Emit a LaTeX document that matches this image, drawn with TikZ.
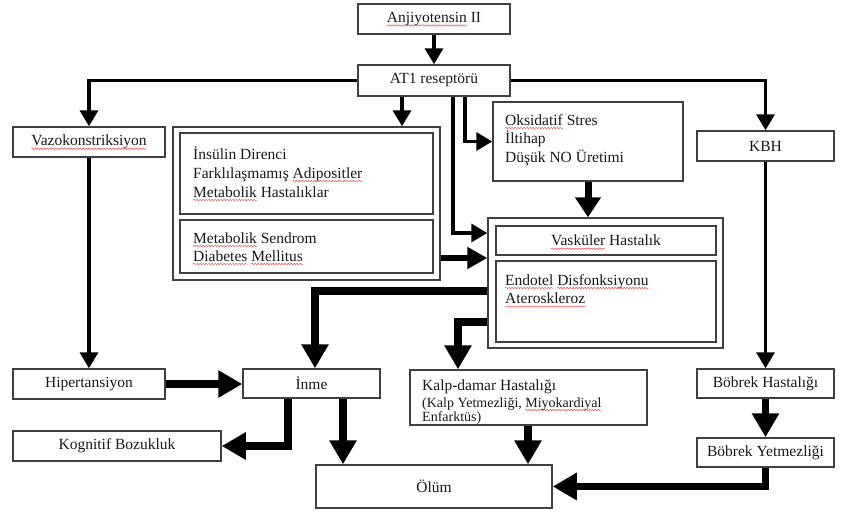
\documentclass[tikz,border=0pt]{standalone}
\usepackage{fontspec}
\setmainfont{Liberation Serif}
\usetikzlibrary{arrows.meta,calc,decorations.pathmorphing}
\newcommand\wv[1]{\tikz[baseline=(wv.base)]{\node[inner sep=0pt,outer sep=0pt,minimum width=0pt,minimum height=0pt,draw=none,fill=none] (wv) {#1};\draw[overlay,red!70,line width=0.5pt,decorate,decoration={snake,amplitude=0.7pt,segment length=3pt}] ([yshift=-3pt]wv.base west) -- ([yshift=-3pt]wv.base east);}}
\begin{document}
\begin{tikzpicture}[x=1pt,y=-1pt,
  box/.style={draw=black!75,line width=1.5pt,fill=white,inner sep=0pt,font=\fontsize{15.5}{18.5}\selectfont,text=black!90},
  txt/.style={inner sep=0pt,anchor=base west,font=\fontsize{15.5}{18.5}\selectfont,text=black!90},
  smalltxt/.style={inner sep=0pt,anchor=base west,font=\fontsize{14}{15}\selectfont,text=black!90},
  thinarr/.style={line width=3.5pt,-{Triangle[length=16pt,width=18pt]}},
  medarr/.style={line width=5.5pt,-{Triangle[length=20pt,width=21pt]}},
  thickarr/.style={line width=7.5pt,-{Triangle[length=24pt,width=26pt]}}]
\useasboundingbox (0,0) rectangle (851,515);
\fill[white] (0,0) rectangle (851,515);
% boxes
\node[box,minimum width=152pt,minimum height=30pt] (ang) at (434,19) {\wv{Anjiyotensin} II};
\node[box,minimum width=152pt,minimum height=31pt] (at1) at (434,80.5) {AT1 reseptörü};
\node[box,minimum width=152pt,minimum height=30pt] (vazo) at (89,142) {\wv{Vazokonstriksiyon}};
\node[box,minimum width=267pt,minimum height=153pt] (lo) at (306.5,203.5) {};
\node[box,minimum width=253pt,minimum height=81pt] (li1) at (306.5,173.5) {};
\node[box,minimum width=253pt,minimum height=53pt] (li2) at (306.5,246.5) {};
\node[box,minimum width=190pt,minimum height=79pt] (oks) at (588,141.5) {};
\node[box,minimum width=137pt,minimum height=30pt] (kbh) at (765.5,146) {KBH};
\node[box,minimum width=235pt,minimum height=130pt] (vo) at (605.5,283) {};
\node[box,minimum width=220pt,minimum height=29pt] (vi1) at (606,240.5) {\wv{Vasküler} Hastalık};
\node[box,minimum width=220pt,minimum height=81pt] (vi2) at (606,301.5) {};
\node[box,minimum width=152pt,minimum height=30pt] (hip) at (89,384) {Hipertansiyon};
\node[box,minimum width=137pt,minimum height=29pt] (inme) at (311.5,383.5) {İnme};
\node[box,minimum width=237pt,minimum height=55pt] (kalp) at (528.5,397.5) {};
\node[box,minimum width=137pt,minimum height=29pt] (bh) at (765.5,383.5) {Böbrek Hastalığı};
\node[box,minimum width=208pt,minimum height=30pt] (kog) at (117,446) {Kognitif Bozukluk};
\node[box,minimum width=137pt,minimum height=29pt] (by) at (765.5,452.5) {Böbrek Yetmezliği};
\node[box,minimum width=236pt,minimum height=43pt] (olum) at (434,486.5) {Ölüm};
% texts
\node[txt] (t1) at (193,159) {İnsülin Direnci};
\node[txt] (t2) at (193,178) {Farklılaşmamış \wv{Adipositler}};
\node[txt] (t3) at (193,197) {\wv{Metabolik} Hastalıklar};
\node[txt] (t4) at (193,243) {\wv{Metabolik} Sendrom};
\node[txt] (t5) at (193,261) {\wv{Diabetes} \wv{Mellitus}};
\node[txt] (t6) at (505,125) {\wv{Oksidatif} Stres};
\node[txt] (t7) at (505,143.5) {İltihap};
\node[txt] (t8) at (505,162) {Düşük NO Üretimi};
\node[txt] (t9) at (505,285) {\wv{Endotel} \wv{Disfonksiyonu}};
\node[txt] (t10) at (505,303.5) {\wv{Ateroskleroz}};
\node[txt] (t11) at (422,390) {Kalp-damar Hastalığı};
\node[smalltxt] (t12) at (422,407) {(Kalp Yetmezliği, \wv{Miyokardiyal}};
\node[smalltxt] (t13) at (422,421) {Enfarktüs)};
% bend coordinates
\coordinate (cA) at (402,0);
\coordinate (cB) at (453,233);
\coordinate (cC) at (465,0);
\coordinate (cD) at (0,258);
\coordinate (cE) at (315,291);
\coordinate (cF) at (458,322);
\coordinate (cG) at (288,0);
\coordinate (cH) at (343,0);
\coordinate (cI) at (528,0);
% connectors
\draw[thinarr] (ang) -- (at1);
\draw[thinarr] (at1.west) -| (vazo.north);
\draw[thinarr] (at1.south -| cA) -- (lo.north -| cA);
\draw[thinarr] (at1.south -| cB) |- (vo.west |- cB);
\draw[thinarr] (at1.south -| cC) |- (oks.west);
\draw[thinarr] (at1.east) -| (kbh.north);
\draw[thinarr] (vazo) -- (hip);
\draw[thinarr] (kbh) -- (bh);
\draw[line width=7pt,-{Triangle[length=20pt,width=25pt]}] (oks.south) -- (oks.south |- vo.north);
\draw[medarr] (lo.east |- cD) -- (vo.west |- cD);
\draw[thickarr] (vo.west |- cE) -| (inme.north -| cE);
\draw[thickarr] (vo.west |- cF) -| (kalp.north -| cF);
\draw[thickarr] (hip.east) -- (hip.east -| inme.west);
\draw[thickarr] (inme.south -| cG) |- (kog.east);
\draw[thickarr] (inme.south -| cH) -- (olum.north -| cH);
\draw[thickarr] (kalp.south -| cI) -- (olum.north -| cI);
\draw[thickarr] (bh) -- (by);
\draw[thickarr] (by.south) |- (olum.east);
\end{tikzpicture}
\end{document}
